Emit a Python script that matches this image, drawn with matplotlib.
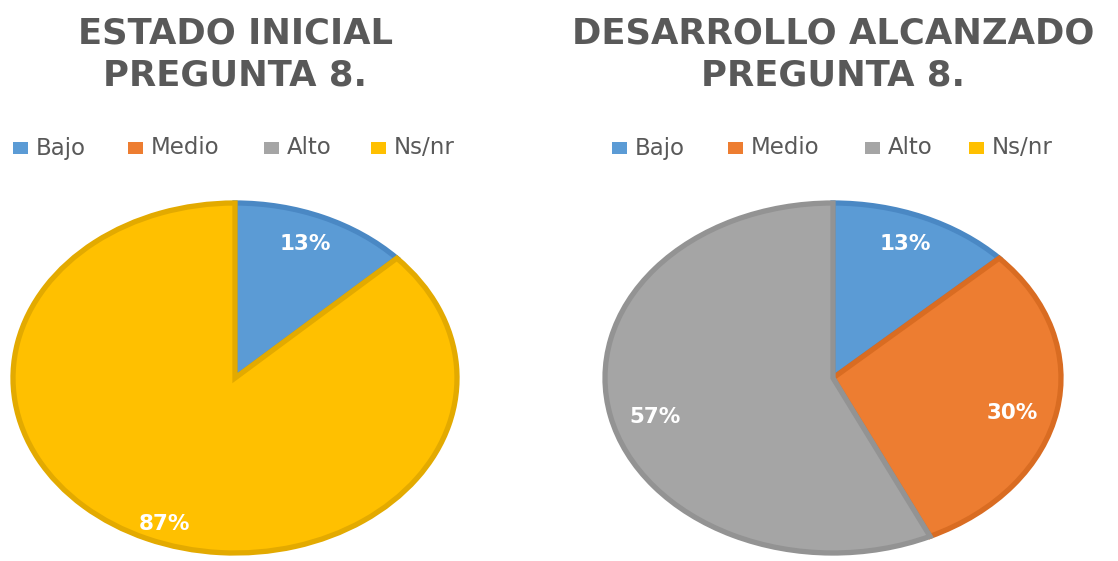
import matplotlib
matplotlib.use("Agg")
import numpy as np
import matplotlib.pyplot as plt
from matplotlib.patches import Rectangle

categories = ["Bajo", "Medio", "Alto", "Ns/nr"]
inicial_values = [13, 0, 0, 87]
alcanzado_values = [13, 30, 57, 0]
title_line1 = ["ESTADO INICIAL", "DESARROLLO ALCANZADO"]
title_line2 = ["PREGUNTA 8.", "PREGUNTA 8."]

colors = ["#5B9BD5", "#ED7D31", "#A5A5A5", "#FFC000"]
edge_colors = ["#4A88C4", "#D96C22", "#939393", "#E3AA00"]
text_gray = "#595959"

W, H = 1118, 561
fig = plt.figure(figsize=(W / 100, H / 100), dpi=100)
fig.patch.set_facecolor("white")

# pie geometry in pixels: (center x, center y, rx, ry)
geoms = [(235, 378, 222, 175), (833, 378, 228, 175)]
legend_x = [[13, 128, 264, 371], [612, 728, 865, 969]]
legend_y = 148

def draw_pie(values, geom, t1, t2, lx):
    cx, cy, rx, ry = geom
    ax = fig.add_axes([(cx - rx) / W, (H - cy - ry) / H, 2 * rx / W, 2 * ry / H])
    vals = [v for v in values if v > 0]
    cols = [c for v, c in zip(values, colors) if v > 0]
    ecols = [c for v, c in zip(values, edge_colors) if v > 0]
    wedges, texts = ax.pie(
        vals, colors=cols, startangle=90, counterclock=False,
        wedgeprops=dict(linewidth=3.8))
    for w, ec, v in zip(wedges, ecols, vals):
        w.set_edgecolor(ec)
        w.set_clip_on(False)
        mid = np.deg2rad((w.theta1 + w.theta2) / 2)
        ax.text(0.80 * np.cos(mid), 0.87 * np.sin(mid) - 0.035, f"{v}%",
                ha="center", va="center", color="white", fontsize=15.5,
                fontweight="bold", family="DejaVu Sans")
    ax.set_aspect("auto")
    ax.set_xlim(-1, 1)
    ax.set_ylim(-1, 1)
    ax.axis("off")

    # title
    fig.text(cx / W, 1 - 34 / H, t1, ha="center", va="center",
             fontsize=25.5, fontweight="bold", color=text_gray, family="DejaVu Sans")
    fig.text(cx / W, 1 - 76 / H, t2, ha="center", va="center",
             fontsize=25.5, fontweight="bold", color=text_gray, family="DejaVu Sans")
    # legend
    for x, cat, col in zip(lx, categories, colors):
        fig.patches.append(Rectangle((x / W, 1 - (legend_y + 6) / H), 15 / W, 12 / H,
                                     transform=fig.transFigure, facecolor=col,
                                     edgecolor="none"))
        fig.text((x + 23) / W, 1 - legend_y / H, cat, ha="left", va="center",
                 fontsize=16.5, color=text_gray, family="DejaVu Sans")

draw_pie(inicial_values, geoms[0], title_line1[0], title_line2[0], legend_x[0])
draw_pie(alcanzado_values, geoms[1], title_line1[1], title_line2[1], legend_x[1])

fig.savefig("out.png", dpi=100, facecolor="white")
